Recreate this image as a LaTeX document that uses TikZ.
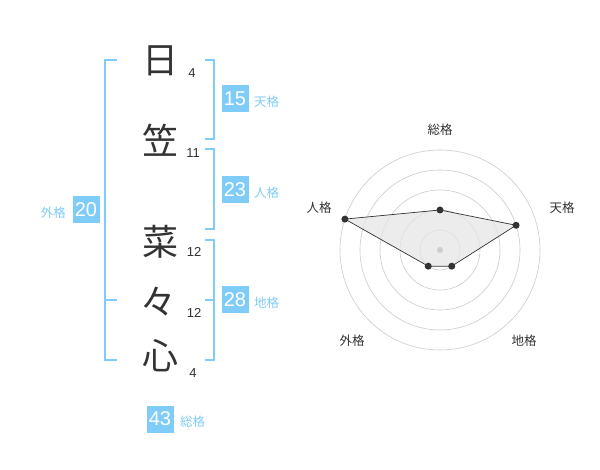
\documentclass[tikz,border=0pt]{standalone}
\usepackage{fontspec}
\setmainfont{Liberation Sans}
\newfontfamily\cjk{Noto Sans CJK JP}
\usetikzlibrary{calc}
\definecolor{kblue}{HTML}{80CCF8}
\definecolor{ktext}{HTML}{333333}
\definecolor{ring}{HTML}{CCCCCC}
\begin{document}
\begin{tikzpicture}[x=1pt,y=-1pt,
  kanji/.style={font=\cjk\fontsize{36}{36}\selectfont, text=ktext, inner sep=0},
  strokes/.style={font=\fontsize{13}{13}\selectfont, text=ktext, inner sep=0},
  numbox/.style={fill=kblue, text=white, minimum width=27pt, minimum height=27pt, inner sep=0, font=\fontsize{20}{20}\selectfont},
  kaku/.style={text=kblue, font=\cjk\fontsize{12.5}{12.5}\selectfont, inner sep=0},
  brk/.style={draw=kblue, line width=1.6pt},
  rlab/.style={text=ktext, font=\cjk\fontsize{12.5}{12.5}\selectfont, inner sep=0},
  dot/.style={circle, fill=ktext, inner sep=0, minimum size=7pt}]
\useasboundingbox[fill=white] (0,0) rectangle (600,470);
% characters
\node[kanji] (c1) at (160,61) {日};
\node[kanji] (c2) at (160,140) {笠};
\node[kanji] (c3) at (160,242) {菜};
\node[kanji] (c4) at (158,302) {々};
\node[kanji] (c5) at (160,356) {心};
\node[strokes] (s1) at (192,73) {4};
\node[strokes] (s2) at (193,153) {11};
\node[strokes] (s3) at (194,252) {12};
\node[strokes] (s4) at (194,313) {12};
\node[strokes] (s5) at (193,373) {4};
% brackets
\draw[brk] (117,60) -- (105,60) -- (105,360) -- (117,360);
\draw[brk] (105,300) -- (117,300);
\draw[brk] (205,60) -- (214,60) -- (214,139) -- (205,139);
\draw[brk] (205,149) -- (214,149) -- (214,229) -- (205,229);
\draw[brk] (205,240) -- (214,240) -- (214,360) -- (205,360);
\draw[brk] (205,300) -- (214,300);
% number boxes
\node[numbox] (ten) at (235,99) {15};
\node[kaku, anchor=west] (tenl) at (254,102) {天格};
\node[numbox] (jin) at (235,190) {23};
\node[kaku, anchor=west] (jinl) at (254,193) {人格};
\node[numbox] (chi) at (235,300) {28};
\node[kaku, anchor=west] (chil) at (254,303) {地格};
\node[numbox] (gai) at (86,210) {20};
\node[kaku, anchor=east] (gail) at (66,213) {外格};
\node[numbox] (sou) at (160,419) {43};
\node[kaku, anchor=west] (soul) at (180,422) {総格};
% radar
\coordinate (O) at (440,250);
\foreach \r in {20,40,60,80,100} \draw[ring, line width=0.6pt] (O) circle[radius=\r];
\coordinate (p1) at ($(O)+(-90:40)$);
\coordinate (p2) at ($(O)+(-18:80)$);
\coordinate (p3) at ($(O)+(54:20)$);
\coordinate (p4) at ($(O)+(126:20)$);
\coordinate (p5) at ($(O)+(-162:100)$);
\fill[gray!20, opacity=0.7] (p1) -- (p2) -- (p3) -- (p4) -- (p5) -- cycle;
\draw[ktext, line width=0.7pt] (p1) -- (p2) -- (p3) -- (p4) -- (p5) -- cycle;
\node[circle, fill=ring, inner sep=0, minimum size=6pt] (ctr) at (O) {};
\foreach \p in {p1,p2,p3,p4,p5} \node[dot] at (\p) {};
\node[rlab] (l1) at (440,130) {総格};
\node[rlab] (l2) at (562,208) {天格};
\node[rlab] (l3) at (524,341) {地格};
\node[rlab] (l4) at (352,341) {外格};
\node[rlab] (l5) at (319,208) {人格};
\end{tikzpicture}
\end{document}
